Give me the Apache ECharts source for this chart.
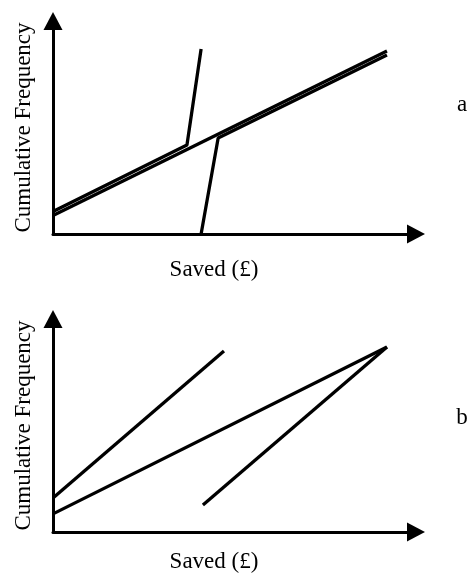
<!DOCTYPE html>
<html>
<head>
<meta charset="utf-8">
<script src="https://cdn.jsdelivr.net/npm/echarts@6/dist/echarts.min.js"></script>
<style>
  html, body { margin: 0; padding: 0; background: #fff; }
  #chart { width: 467px; height: 579px; }
</style>
</head>
<body>
<div id="chart"></div>
<script>
// panel a: three cumulative frequency curves [saved, cumFreq] (arbitrary units 0-100)
var aCurve1 = [[0, 10.6], [36.9, 41.8], [40.8, 86.9]];
var aCurve2 = [[0, 8.7], [92.0, 85.9]];
var aCurve3 = [[40.8, 0], [45.5, 45.1], [92.0, 84.0]];

// panel b
var bCurve1 = [[0, 16.0], [47.1, 85.0]];
var bCurve2 = [[0, 8.5], [92.0, 86.9]];
var bCurve3 = [[41.3, 12.7], [92.0, 86.9]];

var xName = 'Saved (£)';
var yName = 'Cumulative Frequency';
var panelLabels = ['a', 'b'];

var font = '"Liberation Serif", "Times New Roman", serif';

var chart = echarts.init(document.getElementById('chart'));

function axis(gridIndex, isY) {
    return {
        type: 'value',
        gridIndex: gridIndex,
        min: 0,
        max: 100,
        name: isY ? yName : '',
        nameLocation: 'middle',
        nameGap: 18,
        nameTextStyle: { fontFamily: font, fontSize: 23, color: '#000' },
        splitLine: { show: false },
        axisTick: { show: false },
        axisLabel: { show: false },
        axisLine: {
            show: true,
            symbol: ['none', 'triangle'],
            symbolSize: [19, 18],
            lineStyle: { color: '#000', width: 3 }
        }
    };
}

function line(data, idx) {
    return {
        type: 'line',
        xAxisIndex: idx,
        yAxisIndex: idx,
        data: data,
        symbol: 'none',
        lineStyle: { color: '#000', width: 3.3 },
        silent: true
    };
}

var option = {
    animation: false,
    grid: [
        { left: 53, right: 51, top: 21, bottom: 345 },
        { left: 53, right: 51, top: 319, bottom: 47 }
    ],
    xAxis: [axis(0, false), axis(1, false)],
    yAxis: [axis(0, true), axis(1, true)],
    graphic: [
        { type: 'text', x: 214, y: 270, style: { text: xName, font: '23px ' + font, fill: '#000', align: 'center', verticalAlign: 'middle' } },
        { type: 'text', x: 214, y: 562, style: { text: xName, font: '23px ' + font, fill: '#000', align: 'center', verticalAlign: 'middle' } },
        { type: 'text', x: 462, y: 105, style: { text: panelLabels[0], font: '23px ' + font, fill: '#000', align: 'center', verticalAlign: 'middle' } },
        { type: 'text', x: 462, y: 418, style: { text: panelLabels[1], font: '23px ' + font, fill: '#000', align: 'center', verticalAlign: 'middle' } }
    ],
    series: [
        line(aCurve1, 0),
        line(aCurve2, 0),
        line(aCurve3, 0),
        line(bCurve1, 1),
        line(bCurve2, 1),
        line(bCurve3, 1)
    ]
};

chart.setOption(option);
</script>
</body>
</html>
